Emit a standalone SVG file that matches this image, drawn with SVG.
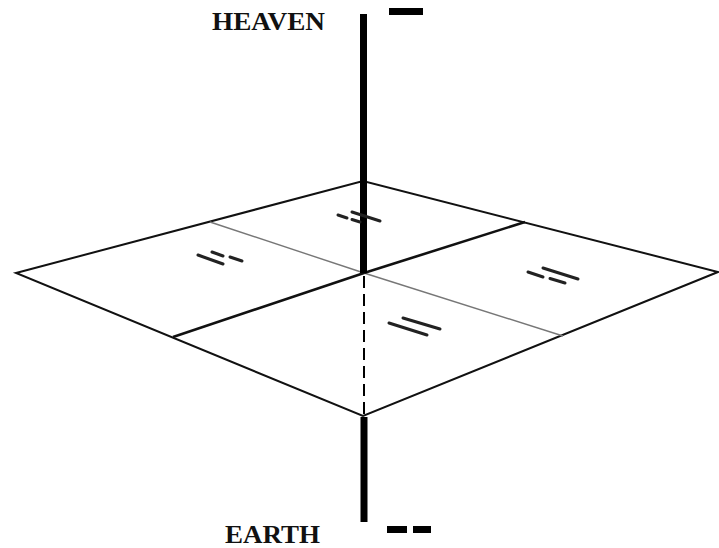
<svg xmlns="http://www.w3.org/2000/svg" width="719" height="548" viewBox="0 0 719 548">
<style>
.edge{fill:none;stroke:#111;stroke-width:2;stroke-linejoin:miter}
.thin{fill:none;stroke:#777;stroke-width:1.4}
.thick{fill:none;stroke:#111;stroke-width:2.6}
.sym{fill:none;stroke:#222;stroke-width:3;stroke-linecap:round}
.pole{fill:none;stroke:#000;stroke-width:7}
.dash{fill:none;stroke:#000;stroke-width:2;stroke-dasharray:12 6}
.lbl{font-family:"Liberation Serif","Times New Roman",serif;font-weight:bold;font-size:25px;fill:#111}
</style>
<rect width="719" height="548" fill="#fff"/>
<g id="plane">
<polygon class="edge" points="16,273 363,181 718,272 363,416" fill="#fff"/>
</g>
<g id="connectors">
<line class="thin" x1="210" y1="222" x2="364" y2="273"/>
<line class="thin" x1="364" y1="273" x2="563" y2="336"/>
<line class="thick" x1="173" y1="337" x2="364" y2="273"/>
<line class="thick" x1="364" y1="273" x2="525" y2="222"/>
<line class="dash" x1="364" y1="276" x2="364" y2="414"/>
<line class="pole" x1="363.5" y1="14" x2="363.5" y2="273"/>
<line class="pole" x1="364" y1="417" x2="364" y2="522"/>
</g>
<g id="quad-top">
<line class="sym" x1="338" y1="215" x2="347" y2="218"/>
<line class="sym" x1="352" y1="219.5" x2="360" y2="222"/>
<line class="sym" x1="352" y1="212" x2="380" y2="221"/>
</g>
<g id="quad-left">
<line class="sym" x1="198" y1="255" x2="223" y2="264"/>
<line class="sym" x1="212" y1="252" x2="223" y2="256"/>
<line class="sym" x1="230" y1="257" x2="242" y2="261"/>
</g>
<g id="quad-right">
<line class="sym" x1="528" y1="272" x2="543" y2="277"/>
<line class="sym" x1="550" y1="278.5" x2="565" y2="283"/>
<line class="sym" x1="543" y1="268" x2="578" y2="279"/>
</g>
<g id="quad-bottom">
<line class="sym" x1="389" y1="323" x2="427" y2="335"/>
<line class="sym" x1="403" y1="318" x2="440" y2="329"/>
</g>
<g id="heaven">
<text class="lbl" x="212" y="30" textLength="113" lengthAdjust="spacingAndGlyphs">HEAVEN</text>
<rect x="389" y="8" width="34" height="7" fill="#000"/>
</g>
<g id="earth">
<text class="lbl" x="225" y="543" textLength="95" lengthAdjust="spacingAndGlyphs">EARTH</text>
<rect x="387" y="526" width="20" height="7" fill="#000"/>
<rect x="413" y="526" width="18" height="7" fill="#000"/>
</g>
</svg>
